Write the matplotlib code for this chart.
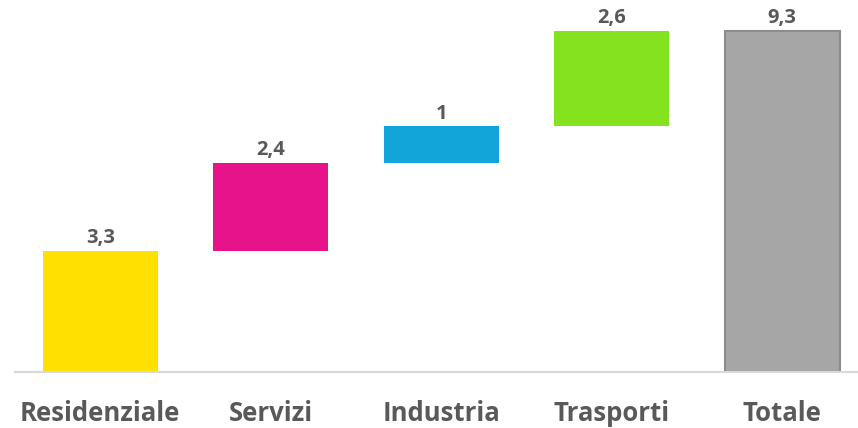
import matplotlib
matplotlib.use("Agg")
import matplotlib.pyplot as plt

categories = ["Residenziale", "Servizi", "Industria", "Trasporti", "Totale"]
values = [3.3, 2.4, 1.0, 2.6, 9.3]
labels = ["3,3", "2,4", "1", "2,6", "9,3"]
colors = ["#FFE000", "#E6138A", "#12A5D9", "#85E21F", "#A6A6A6"]

plt.rcParams['font.family'] = ['Open Sans', 'DejaVu Sans']

fig = plt.figure(figsize=(8.58, 4.28), dpi=100)
ax = fig.add_axes([15/858, 56/428, 843/858, 372/428])

bottoms = []
cum = 0
for i, v in enumerate(values):
    if i == len(values) - 1:
        bottoms.append(0)
    else:
        bottoms.append(cum)
        cum += v

x = list(range(len(categories)))
for i in x:
    edge = "#8C8C8C" if i == len(values) - 1 else "none"
    lw = 1.5 if i == len(values) - 1 else 0
    ax.bar(i, values[i], bottom=bottoms[i], width=0.675, color=colors[i],
           edgecolor=edge, linewidth=lw, zorder=2)
    ax.annotate(labels[i], (i, bottoms[i] + values[i]), xytext=(0, 2),
                textcoords="offset points", ha="center", va="bottom",
                fontsize=14.5, fontweight="bold", color="#595959")

ax.set_xlim(-0.5, -0.5 + 843/170.5)
ax.set_ylim(0, 372/36.67)
for s in ["top", "right", "left"]:
    ax.spines[s].set_visible(False)
ax.spines["bottom"].set_color("#D9D9D9")
ax.spines["bottom"].set_linewidth(1.5)
ax.set_yticks([])
ax.set_xticks(x)
ax.set_xticklabels(categories, fontsize=18.5, fontweight="bold", color="#595959")
ax.tick_params(axis="x", length=0, pad=20)

fig.savefig("out.png", dpi=100)
